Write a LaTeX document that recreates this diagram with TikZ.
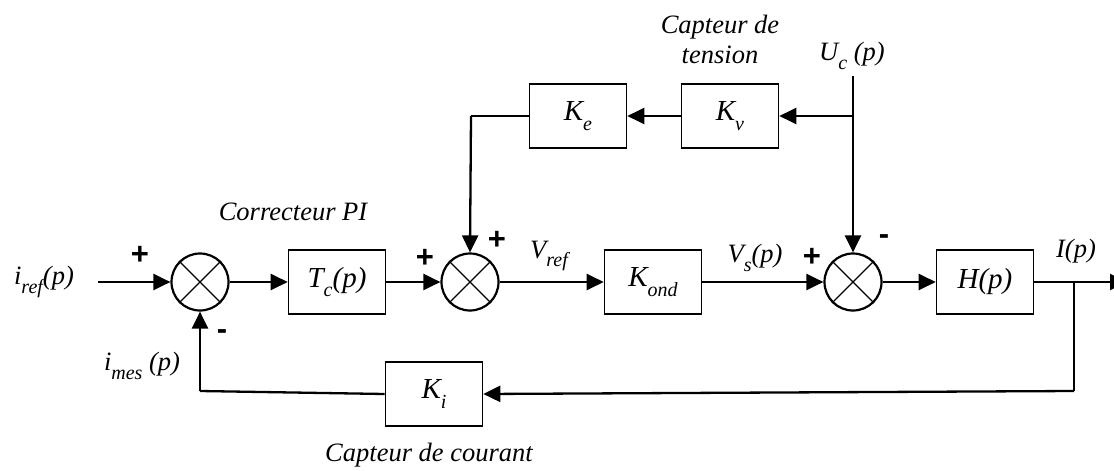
\documentclass[tikz,border=0pt]{standalone}
\usepackage{fontspec}
\setmainfont{Liberation Serif}
\newfontfamily\signfont{Liberation Sans}
\usetikzlibrary{arrows.meta}
\newcommand\lowsub[1]{\raisebox{-0.32em}{\fontsize{20}{20}\selectfont #1}}
\begin{document}
\begin{tikzpicture}[x=1pt,y=-1pt,
  blk/.style={draw,line width=1.6pt,minimum width=97pt,minimum height=64pt,inner sep=0pt,font=\fontsize{29}{30}\selectfont\itshape},
  sumj/.style={draw,circle,line width=2.2pt,minimum size=57pt,inner sep=0pt},
  lbl/.style={font=\fontsize{26.5}{30}\selectfont\itshape,inner sep=0pt},
  sgn/.style={font=\fontsize{31}{31}\signfont\bfseries,inner sep=0pt},
  sig/.style={line width=2.3pt,-{Triangle[length=17pt,width=16pt]}},
  wire/.style={line width=1.6pt},
  wirea/.style={line width=1.6pt,-{Triangle[length=17pt,width=16pt]}}]
\useasboundingbox (0,0) rectangle (1114,471);

% junctions
\node[sumj] (s1) at (200,282) {};
\node[sumj] (s2) at (470,282) {};
\node[sumj] (s3) at (853,282) {};
\foreach \s in {s1,s2,s3}{
  \draw[line width=1.3pt] (\s.north west) -- (\s.south east);
  \draw[line width=1.3pt] (\s.north east) -- (\s.south west);
}

% blocks
\node[blk] (tc) at (337,282) {T\lowsub{c}(p)};
\node[blk] (kond) at (653,282) {K\lowsub{ond}};
\node[blk] (h) at (985,282) {H(p)};
\node[blk] (ke) at (578,116) {K\lowsub{e}};
\node[blk] (kv) at (730,116) {K\lowsub{v}};
\node[blk] (ki) at (434,394) {K\lowsub{i}};

% coordinates
\coordinate (in) at (98,282);
\coordinate (uc) at (853,76);
\coordinate (ucb) at (853,116);
\coordinate (kec) at (471,116);
\coordinate (br) at (1074,282);
\coordinate (brd) at (1074,391);
\coordinate (fbl) at (200,391);
\coordinate (out) at (1127,282);

% signal lines
\draw[sig] (in) -- (s1.west);
\draw[sig] (s1.east) -- (tc.west);
\draw[sig] (tc.east) -- (s2.west);
\draw[sig] (s2.east) -- (kond.west);
\draw[sig] (kond.east) -- (s3.west);
\draw[sig] (s3.east) -- (h.west);
\draw[wire] (h.east) -- (br);
\draw[sig] (br) -- (out);
\draw[sig] (uc) -- (s3.north);
\draw[sig] (ucb) -- (kv.east);
\draw[sig] (kv.west) -- (ke.east);
\draw[wire] (ke.west) -- (kec);
\draw[sig] (kec) -- (s2.north);
\draw[wire] (br) -- (brd);
\draw[sig] (brd) -- (ki.east);
\draw[line width=2.3pt] (ki.west) -- (fbl);
\draw[sig] (fbl) -- (s1.south);

% labels
\node[lbl] (liref) at (44,282) {i\lowsub{ref}(p)};
\node[lbl] (limes) at (142,366) {i\lowsub{mes} (p)};
\node[lbl] (lcpi) at (293,212) {Correcteur PI};
\node[lbl] (lvref) at (549,256) {V\lowsub{ref}};
\node[lbl] (lvs) at (755,258) {V\lowsub{s}(p)};
\node[lbl] (luc) at (852,56) {U\lowsub{c} (p)};
\node[lbl] (lct1) at (720,27) {Capteur de};
\node[lbl] (lct2) at (720,55) {tension};
\node[lbl] (lip) at (1076,251) {I(p)};
\node[lbl] (lcc) at (429,455) {Capteur de courant};

% signs
\node[sgn] (p1) at (140,255) {+};
\node[sgn] (m1) at (222,335) {-};
\node[sgn] (p2) at (425,258) {+};
\node[sgn] (p3) at (497,240) {+};
\node[sgn] (p4) at (812,257) {+};
\node[sgn] (m3) at (884,240) {-};
\end{tikzpicture}
\end{document}
